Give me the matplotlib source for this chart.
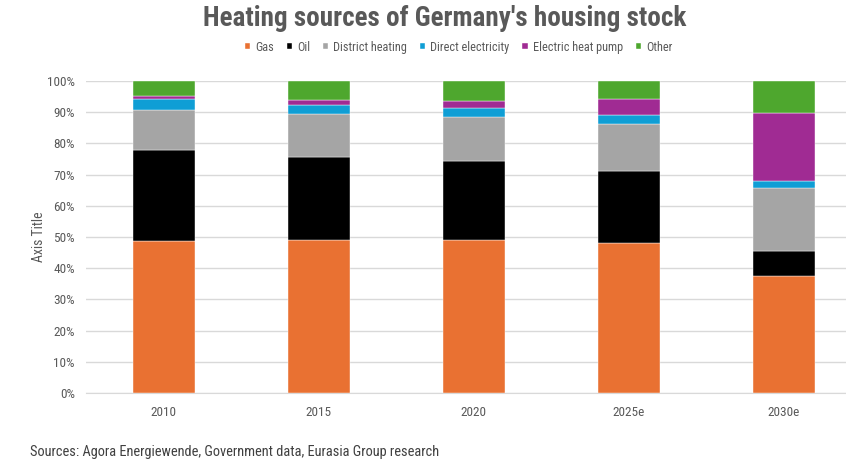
import numpy as np
import matplotlib.pyplot as plt
from matplotlib.ticker import PercentFormatter

plt.rcParams['font.family'] = ['Roboto Condensed', 'Roboto', 'DejaVu Sans']

years = ["2010", "2015", "2020", "2025e", "2030e"]
series = ["Gas", "Oil", "District heating", "Direct electricity",
          "Electric heat pump", "Other"]
gas = [48.8, 49.0, 49.0, 48.1, 37.6]
oil = [29.1, 26.5, 25.5, 23.1, 8.0]
district = [12.7, 13.8, 13.9, 14.9, 20.1]
direct_elec = [3.5, 2.9, 2.8, 2.9, 2.2]
heat_pump = [1.1, 1.6, 2.5, 5.1, 21.9]
other = [4.8, 6.2, 6.3, 5.9, 10.2]
colors = ["#E97132", "#000000", "#A5A5A5", "#0F9ED5", "#A02B93", "#4EA72E"]

data = np.array([gas, oil, district, direct_elec, heat_pump, other]) / 100

fig = plt.figure(figsize=(8.46, 4.61), dpi=100)
ax = fig.add_axes([86 / 846, 1 - 393 / 461, 775 / 846, 312 / 461])

x = np.arange(len(years))
bottom = np.zeros(len(years))
for vals, name, c in zip(data, series, colors):
    ax.bar(x, vals, 0.4, bottom=bottom, color=c, label=name,
           edgecolor="white", linewidth=0.3, zorder=3)
    bottom += vals

ax.set_xlim(-0.5, 4.5)
ax.set_ylim(0, 1)
ax.set_yticks(np.arange(0, 1.01, 0.1))
ax.yaxis.set_major_formatter(PercentFormatter(1.0, decimals=0))
ax.set_xticks(x, years)
ax.grid(axis="y", color="#D9D9D9", linewidth=1, zorder=0)
for s in ["top", "right", "left"]:
    ax.spines[s].set_visible(False)
ax.spines["bottom"].set_color("#D9D9D9")
ax.tick_params(length=0, colors="#595959", labelsize=9.5)
ax.tick_params(axis="x", pad=9)
ax.tick_params(axis="y", pad=8)
ax.set_ylabel("Axis Title", color="#595959", fontsize=10, va="center")
ax.yaxis.set_label_coords(-0.061, 0.5)

fig.text(0.526, 0.96, "Heating sources of Germany's housing stock",
         ha="center", va="center", fontsize=19.5, fontweight="bold",
         color="#595959")
fig.legend(loc="center", bbox_to_anchor=(0.542, 0.898), ncol=6,
           frameon=False, fontsize=8.8, handlelength=0.45, handleheight=0.45,
           handletextpad=0.4, columnspacing=1.05, labelcolor="#595959")
fig.text(30 / 846, 1 - 452 / 461,
         "Sources: Agora Energiewende, Government data, Eurasia Group research",
         ha="left", va="center", fontsize=10.4, color="#404040")

fig.savefig("out.png", dpi=100)
